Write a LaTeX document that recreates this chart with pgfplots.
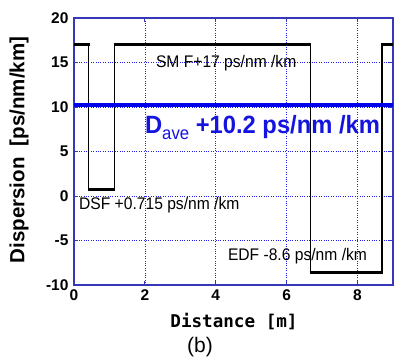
\documentclass[border=0pt]{standalone}
\usepackage{fontspec}
\usepackage{pgfplots}
\pgfplotsset{compat=1.18}
\setmainfont{Liberation Sans}
\newfontfamily\narrowfont[FakeStretch=0.93]{Liberation Sans}
\newfontfamily\daveFont[FakeStretch=0.95]{Liberation Sans Bold}
\newfontfamily\monobold{DejaVu Sans Mono Bold}
\definecolor{axisblue}{RGB}{55,55,185}
\definecolor{gridblue}{RGB}{30,30,240}
\definecolor{lineblue}{RGB}{0,0,235}
\definecolor{textblue}{RGB}{20,20,225}
\begin{document}
\begin{tikzpicture}
\begin{axis}[
  at={(0,0)}, anchor=south west,
  width=319pt, height=267pt, scale only axis,
  xmin=0, xmax=9, ymin=-10, ymax=20,
  xtick={0,2,4,6,8}, ytick={-10,-5,0,5,10,15,20},
  grid=major,
  grid style={dotted, gridblue, line width=0.7pt},
  axis line style={draw=axisblue, line width=1.3pt},
  tick style={draw=axisblue, line width=0.8pt},
  tick align=inside,
  major tick length=4pt,
  /pgf/number format/assume math mode=true,
  ticklabel style={font=\fontsize{15.5}{18}\selectfont\bfseries},
  yticklabel style={xshift=-2pt},
  xticklabel style={yshift=-1pt},
  unbounded coords=jump,
  clip=true,
]
% thin verticals
\addplot[black, line width=1.2pt] coordinates {
  (0.42,17) (0.42,0.715) (nan,nan)
  (1.14,0.715) (1.14,17) (nan,nan)
  (6.67,17) (6.67,-8.6) (nan,nan)
  (8.69,-8.6) (8.69,17)
};
% thick horizontals
\addplot[black, line width=3.3pt] coordinates {
  (0,17) (0.44,17) (nan,nan)
  (0.40,0.715) (1.16,0.715) (nan,nan)
  (1.12,17) (6.69,17) (nan,nan)
  (6.65,-8.6) (8.71,-8.6) (nan,nan)
  (8.67,17) (9,17)
};
% average
\addplot[lineblue, line width=4pt] coordinates {(0,10.2) (9,10.2)};

\node[anchor=west, inner sep=0pt, font=\narrowfont\fontsize{16.8}{18}\selectfont] at (axis cs:2.31,14.94) {SM F+17 ps/nm /km};
\node[anchor=west, inner sep=0pt, font=\narrowfont\fontsize{16.8}{18}\selectfont] at (axis cs:0.14,-1.0) {DSF +0.715 ps/nm /km};
\node[anchor=west, inner sep=0pt, font=\narrowfont\fontsize{16.8}{18}\selectfont] at (axis cs:4.34,-6.74) {EDF -8.6 ps/nm /km};
\node[anchor=base west, inner sep=0pt, text=textblue, font=\daveFont\fontsize{25}{28}\selectfont] at (axis cs:2.0,6.97) {D\raisebox{-5.3pt}{\narrowfont\fontsize{18}{18}\selectfont ave} +10.2 ps/nm /km};
\end{axis}
\node[rotate=90, font=\bfseries\fontsize{20.5}{22}\selectfont, inner sep=0pt] at (-55pt,135pt) {Dispersion\ \ [ps/nm/km]};
\node[font=\monobold\fontsize{17.6}{20}\selectfont, inner sep=0pt] at (160pt,-37pt) {Distance [m]};
\node[font=\fontsize{21}{24}\selectfont, inner sep=0pt] at (126pt,-62pt) {(b)};
\pgfresetboundingbox
\path (-74pt,-77pt) rectangle (322pt,285pt);
\end{tikzpicture}
\end{document}
